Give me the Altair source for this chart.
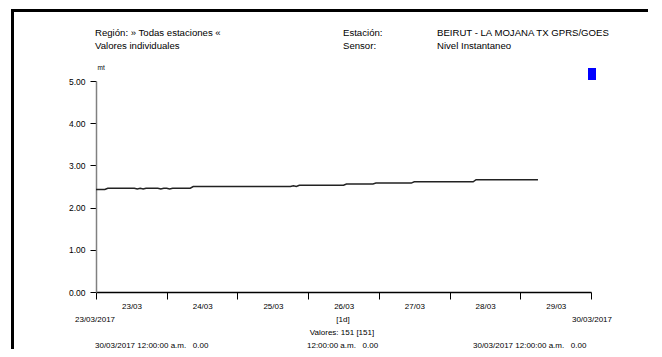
import json
import altair as alt
import pandas as pd

# ---- data ----
hours = [0, 3, 4, 13, 14, 15, 16, 17, 21, 22, 23, 24, 25, 26, 32, 33, 66, 67, 68, 69,
         84, 85, 94, 95, 107, 108, 128, 129, 150]
levels = [2.43, 2.43, 2.46, 2.46, 2.44, 2.46, 2.44, 2.46, 2.46, 2.44, 2.46, 2.46, 2.44, 2.46,
          2.46, 2.50, 2.50, 2.52, 2.50, 2.53, 2.53, 2.56, 2.56, 2.58, 2.58, 2.61, 2.61, 2.66, 2.66]
y_ticks = [0, 1, 2, 3, 4, 5]
day_ticks = [0, 24, 48, 72, 96, 120, 144, 168]
day_labels = ["23/03", "24/03", "25/03", "26/03", "27/03", "28/03", "29/03", ""]

header_left = ["Región: » Todas estaciones «", "Valores individuales"]
header_mid = ["Estación:", "Sensor:"]
header_right = ["BEIRUT - LA MOJANA TX GPRS/GOES", "Nivel Instantaneo"]
start_label = "23/03/2017"
end_label = "30/03/2017"
interval_label = "[1d]"
count_label = "Valores: 151 [151]"
NB = "\u00a0\u00a0\u00a0"
footer = ["30/03/2017 12:00:00 a.m." + NB + "0.00",
          "12:00:00 a.m." + NB + "0.00",
          "30/03/2017 12:00:00 a.m." + NB + "0.00"]

FONT = "Liberation Sans, Arial, sans-serif"
W, H = 495, 211
OX, OY = 96, 81  # plot origin on the page

df = pd.DataFrame({"h": hours, "v": levels})

label_expr = json.dumps(day_labels) + "[round(datum.value/24)]"

base = alt.Chart(df)
line = base.mark_line(color="#222222", strokeWidth=1.5).encode(
    x=alt.X("h:Q", scale=alt.Scale(domain=[0, 168], nice=False, zero=False),
            axis=alt.Axis(values=day_ticks, labelExpr=label_expr, labelOffset=35.5,
                          tickSize=7, tickColor="black", domainColor="black",
                          domainWidth=1.5, labelFont=FONT, labelFontSize=8,
                          labelColor="black", labelPadding=3, grid=False, title=None,
                          labelOverlap=False, labelFlush=False, labelBound=False)),
    y=alt.Y("v:Q", scale=alt.Scale(domain=[0, 5], nice=False, zero=True),
            axis=alt.Axis(values=y_ticks, format=".2f", tickSize=6, tickColor="black",
                          domainColor="#808080", domainWidth=1.5, labelFont=FONT,
                          labelFontSize=8.5, labelColor="black", labelPadding=5,
                          grid=False, title="mt", titleAngle=0, titleX=1, titleY=-14,
                          titleAlign="left", titleBaseline="middle", titleFontSize=6.5,
                          titleFontWeight="normal", titleFont=FONT, titleColor="black")),
)

one = alt.Data(values=[{}])


def txt(s, px, py, align="left", size=8):
    return alt.Chart(one).mark_text(align=align, baseline="middle", font=FONT,
                                    fontSize=size, color="black").encode(
        x=alt.value(px - OX), y=alt.value(py - OY), text=alt.value(s))


def box(x0, x1, y0, y1, color):
    return alt.Chart(one).mark_rect(color=color).encode(
        x=alt.value(x0 - OX), x2=alt.value(x1 - OX),
        y=alt.value(y0 - OY), y2=alt.value(y1 - OY))


HS = 9.6
layers = [line]
layers += [txt(header_left[0], 95, 33, size=HS), txt(header_left[1], 95, 46, size=HS),
           txt(header_mid[0], 343, 33, size=HS), txt(header_mid[1], 343, 46, size=HS),
           txt(header_right[0], 437, 33, size=HS), txt(header_right[1], 437, 46, size=HS)]
layers += [txt(start_label, 75, 320), txt(interval_label, 343, 320, "center"),
           txt(end_label, 612, 320, "right"), txt(count_label, 342, 333, "center"),
           txt(footer[0], 95, 345.5), txt(footer[1], 307, 345.5), txt(footer[2], 473, 345.5)]

# frame (left and top edges) and legend swatch
layers.append(box(11, 14, 9, 349, "black"))
layers.append(box(11, 648, 9, 12, "black"))
layers.append(box(588, 596, 68, 80, "#0000ff"))

chart = alt.layer(*layers).properties(
    width=W, height=H, autosize="none", background="white",
    padding={"left": 88, "top": 73, "right": 63, "bottom": 57},
).configure_view(strokeWidth=0)

chart.save("out.html", embed_options={"renderer": "svg", "actions": False})
